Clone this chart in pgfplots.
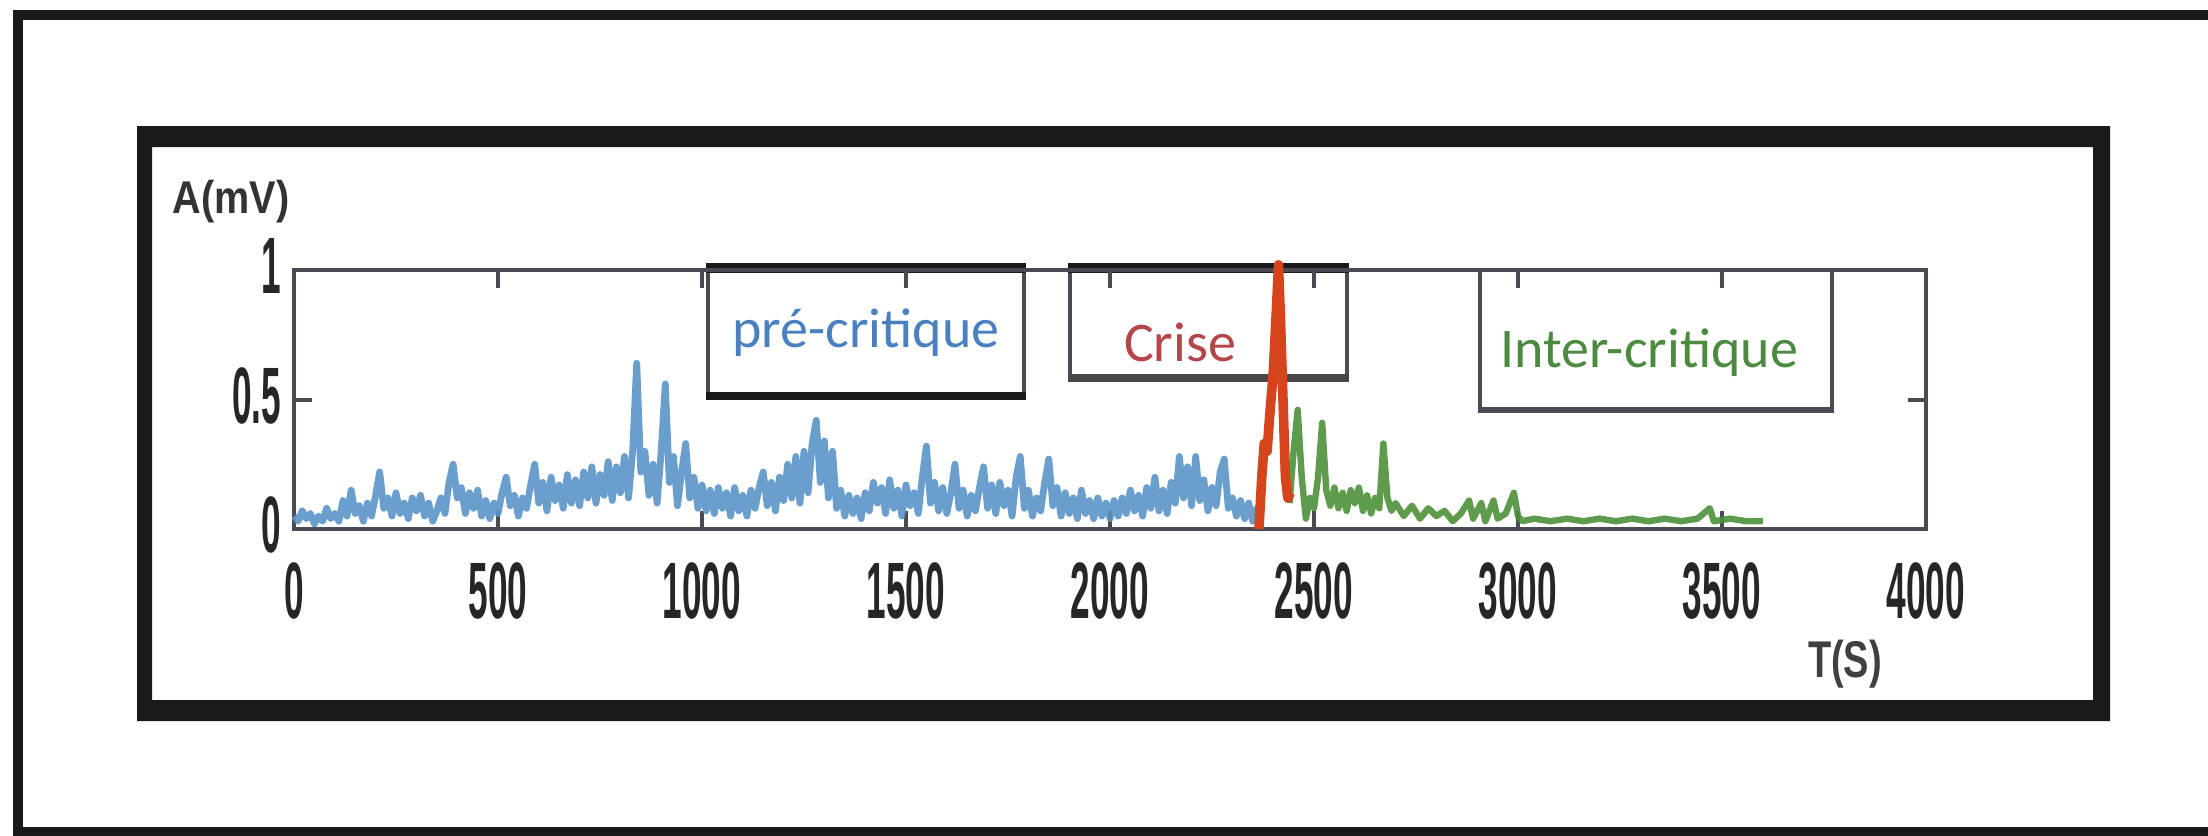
\documentclass[border=0pt]{standalone}
\usepackage{pgfplots}
\pgfplotsset{compat=1.18}
\usepackage{fontspec}
\setmainfont{Liberation Sans}
\newfontfamily\calib{Carlito}
\definecolor{frame}{HTML}{1A1A1A}
\definecolor{axgray}{HTML}{4A4A55}
\definecolor{sigblue}{HTML}{5A93C8}
\definecolor{siggreen}{HTML}{4E9038}
\definecolor{sigred}{HTML}{D6441E}
\definecolor{txtblue}{HTML}{4A80C0}
\definecolor{txtred}{HTML}{B4464A}
\definecolor{txtgreen}{HTML}{4C8A40}
\newcommand\tl[1]{\scalebox{0.44}[1]{#1}}
\begin{document}
\begin{tikzpicture}[x=0.25pt,y=-0.25pt]
\useasboundingbox (0,0) rectangle (2208,836);
% outer frame
\fill[frame] (13,10) rectangle (2208,20);
\fill[frame] (13,10) rectangle (23,836);
\fill[frame] (13,827) rectangle (2208,836);
% inner frame
\fill[frame, even odd rule] (137,126) rectangle (2110,721) (152,147) rectangle (2093,700);
% annotation boxes
\fill[white] (708,268) rectangle (1024,396);
\draw[axgray, line width=1pt] (708,268) -- (708,396) (1024,268) -- (1024,396);
\draw[frame, line width=2pt] (706,396) -- (1026,396);
\draw[frame, line width=2.5pt] (706,268) -- (1026,268);
\fill[white] (1070,268) rectangle (1347,378);
\draw[axgray, line width=1pt] (1070,268) -- (1070,378) (1347,268) -- (1347,378);
\draw[frame!80, line width=1.8pt] (1068,378) -- (1349,378);
\draw[frame, line width=2.5pt] (1068,268) -- (1349,268);
\fill[white] (1480,270) rectangle (1832,410);
\draw[axgray, line width=1pt] (1480,270) -- (1480,410) (1832,270) -- (1832,410);
\draw[axgray, line width=1.6pt] (1478,410) -- (1834,410);
\node[anchor=base, text=txtblue, font=\calib\fontsize{14}{14}\selectfont] at (866,347) {pré-critique};
\node[anchor=base, text=txtred, font=\calib\fontsize{14}{14}\selectfont] at (1180,361) {Crise};
\node[anchor=base, text=txtgreen, font=\calib\fontsize{14}{14}\selectfont] at (1649,367) {Inter-critique};
% axis titles
\node[anchor=base, text=black!80, font=\bfseries\fontsize{9.9}{10}\selectfont] at (231,213) {\scalebox{1}[1.16]{A(mV)}};
\node[anchor=base, text=black!75, font=\bfseries\fontsize{9.5}{10}\selectfont] at (1845,677) {\scalebox{1}[1.36]{T(S)}};
\begin{axis}[
  at={(73.5pt,-132.25pt)}, anchor=south west,
  scale only axis, width=408pt, height=64.75pt,
  xmin=0, xmax=4000, ymin=0, ymax=1,
  clip=false,
  xtick={0,500,1000,1500,2000,2500,3000,3500,4000},
  xticklabels={\tl{0},\tl{500},\tl{1000},\tl{1500},\tl{2000},\tl{2500},\tl{3000},\tl{3500},\tl{4000}},
  ytick={0,0.5,1},
  yticklabels={\tl{0},\tl{0.5},\tl{1}},
  axis line style={axgray, line width=1pt},
  tick style={axgray, line width=1pt},
  major tick length=4.5pt,
  tick align=inside,
  every tick label/.append style={font=\bfseries\fontsize{20}{20}\selectfont, text=black!85, inner sep=0pt},
  xticklabel style={yshift=-8.25pt},
  yticklabel style={xshift=-3pt, yshift=1pt},
]
\addplot[sigblue, line width=1.7pt, line join=round, opacity=0.9] coordinates {
(0,0.05)(10,0.03)(20,0.07)(30,0.04)(40,0.06)(50,0.02)(60,0.05)(70,0.03)(80,0.08)(90,0.04)
(100,0.06)(110,0.03)(120,0.11)(130,0.05)(140,0.15)(150,0.06)(160,0.09)(170,0.03)(180,0.10)(190,0.05)
(200,0.13)(210,0.22)(220,0.08)(230,0.12)(240,0.05)(250,0.14)(260,0.06)(270,0.10)(280,0.04)(290,0.12)
(300,0.07)(310,0.13)(320,0.05)(330,0.10)(340,0.03)(350,0.07)(360,0.12)(370,0.06)(380,0.18)(390,0.25)
(400,0.12)(410,0.16)(420,0.06)(430,0.14)(440,0.08)(450,0.15)(460,0.05)(470,0.11)(480,0.04)(490,0.10)
(500,0.06)(510,0.14)(520,0.20)(530,0.09)(540,0.13)(550,0.05)(560,0.12)(570,0.08)(580,0.17)(590,0.25)
(600,0.10)(610,0.18)(620,0.07)(630,0.20)(640,0.11)(650,0.17)(660,0.08)(670,0.21)(680,0.10)(690,0.19)
(700,0.09)(710,0.22)(720,0.12)(730,0.24)(740,0.10)(750,0.21)(760,0.13)(770,0.26)(780,0.11)(790,0.24)
(800,0.14)(810,0.28)(820,0.12)(830,0.30)(840,0.64)(850,0.22)(860,0.30)(870,0.13)(880,0.25)(890,0.10)
(900,0.30)(910,0.56)(920,0.18)(930,0.28)(940,0.09)(950,0.22)(960,0.33)(970,0.12)(980,0.20)(990,0.08)
(1000,0.17)(1010,0.07)(1020,0.15)(1030,0.06)(1040,0.16)(1050,0.08)(1060,0.14)(1070,0.05)(1080,0.16)(1090,0.07)
(1100,0.13)(1110,0.05)(1120,0.15)(1130,0.08)(1140,0.16)(1150,0.22)(1160,0.09)(1170,0.18)(1180,0.07)(1190,0.20)
(1200,0.11)(1210,0.25)(1220,0.12)(1230,0.28)(1240,0.10)(1250,0.30)(1260,0.14)(1270,0.33)(1280,0.42)(1290,0.18)
(1300,0.34)(1310,0.12)(1320,0.30)(1330,0.08)(1340,0.15)(1350,0.05)(1360,0.13)(1370,0.06)(1380,0.12)(1390,0.04)
(1400,0.14)(1410,0.07)(1420,0.18)(1430,0.10)(1440,0.16)(1450,0.06)(1460,0.19)(1470,0.08)(1480,0.15)(1490,0.05)
(1500,0.17)(1510,0.09)(1520,0.14)(1530,0.06)(1540,0.20)(1550,0.32)(1560,0.10)(1570,0.18)(1580,0.07)(1590,0.16)
(1600,0.06)(1610,0.14)(1620,0.25)(1630,0.08)(1640,0.15)(1650,0.05)(1660,0.13)(1670,0.07)(1680,0.16)(1690,0.24)
(1700,0.08)(1710,0.17)(1720,0.06)(1730,0.18)(1740,0.09)(1750,0.15)(1760,0.05)(1770,0.20)(1780,0.28)(1790,0.08)
(1800,0.15)(1810,0.05)(1820,0.12)(1830,0.07)(1840,0.18)(1850,0.27)(1860,0.09)(1870,0.16)(1880,0.05)(1890,0.14)
(1900,0.06)(1910,0.12)(1920,0.04)(1930,0.15)(1940,0.06)(1950,0.11)(1960,0.04)(1970,0.12)(1980,0.05)(1990,0.10)
(2000,0.04)(2010,0.11)(2020,0.05)(2030,0.12)(2040,0.06)(2050,0.15)(2060,0.07)(2070,0.13)(2080,0.05)(2090,0.16)
(2100,0.08)(2110,0.20)(2120,0.07)(2130,0.15)(2140,0.06)(2150,0.18)(2160,0.10)(2170,0.28)(2180,0.12)(2190,0.24)
(2200,0.09)(2210,0.28)(2220,0.11)(2230,0.19)(2240,0.07)(2250,0.16)(2260,0.09)(2270,0.22)(2280,0.27)(2290,0.08)
(2300,0.12)(2310,0.05)(2320,0.11)(2330,0.04)(2340,0.10)(2350,0.03)(2360,0.08)(2370,0.02)
};
\addplot[siggreen, line width=1.6pt, line join=round, opacity=0.9] coordinates {
(2440,0.10)(2450,0.30)(2460,0.46)(2470,0.20)(2480,0.04)(2490,0.12)(2500,0.08)(2510,0.20)(2520,0.41)(2530,0.15)
(2540,0.09)(2550,0.16)(2560,0.08)(2570,0.14)(2580,0.07)(2590,0.15)(2600,0.10)(2610,0.16)(2620,0.07)(2630,0.13)
(2640,0.06)(2650,0.12)(2660,0.08)(2670,0.33)(2680,0.12)(2690,0.07)(2700,0.10)(2720,0.05)(2740,0.09)(2760,0.04)
(2780,0.08)(2800,0.05)(2820,0.07)(2840,0.03)(2860,0.06)(2880,0.11)(2890,0.04)(2910,0.10)(2920,0.03)(2940,0.11)
(2950,0.04)(2970,0.06)(2990,0.14)(3000,0.05)(3010,0.03)(3040,0.04)(3080,0.03)(3120,0.04)(3160,0.03)(3200,0.04)
(3240,0.03)(3280,0.04)(3320,0.03)(3360,0.04)(3400,0.03)(3440,0.04)(3470,0.08)(3480,0.03)(3520,0.04)(3560,0.03)
(3600,0.03)
};
\addplot[sigred, line width=2.4pt, line join=round] coordinates {
(2365,0.0)(2372,0.2)(2378,0.33)(2385,0.30)(2392,0.45)(2400,0.6)(2408,0.85)(2413,1.02)(2418,0.8)(2425,0.45)
(2430,0.2)(2436,0.12)(2442,0.14)
};
\end{axis}
\end{tikzpicture}
\end{document}
